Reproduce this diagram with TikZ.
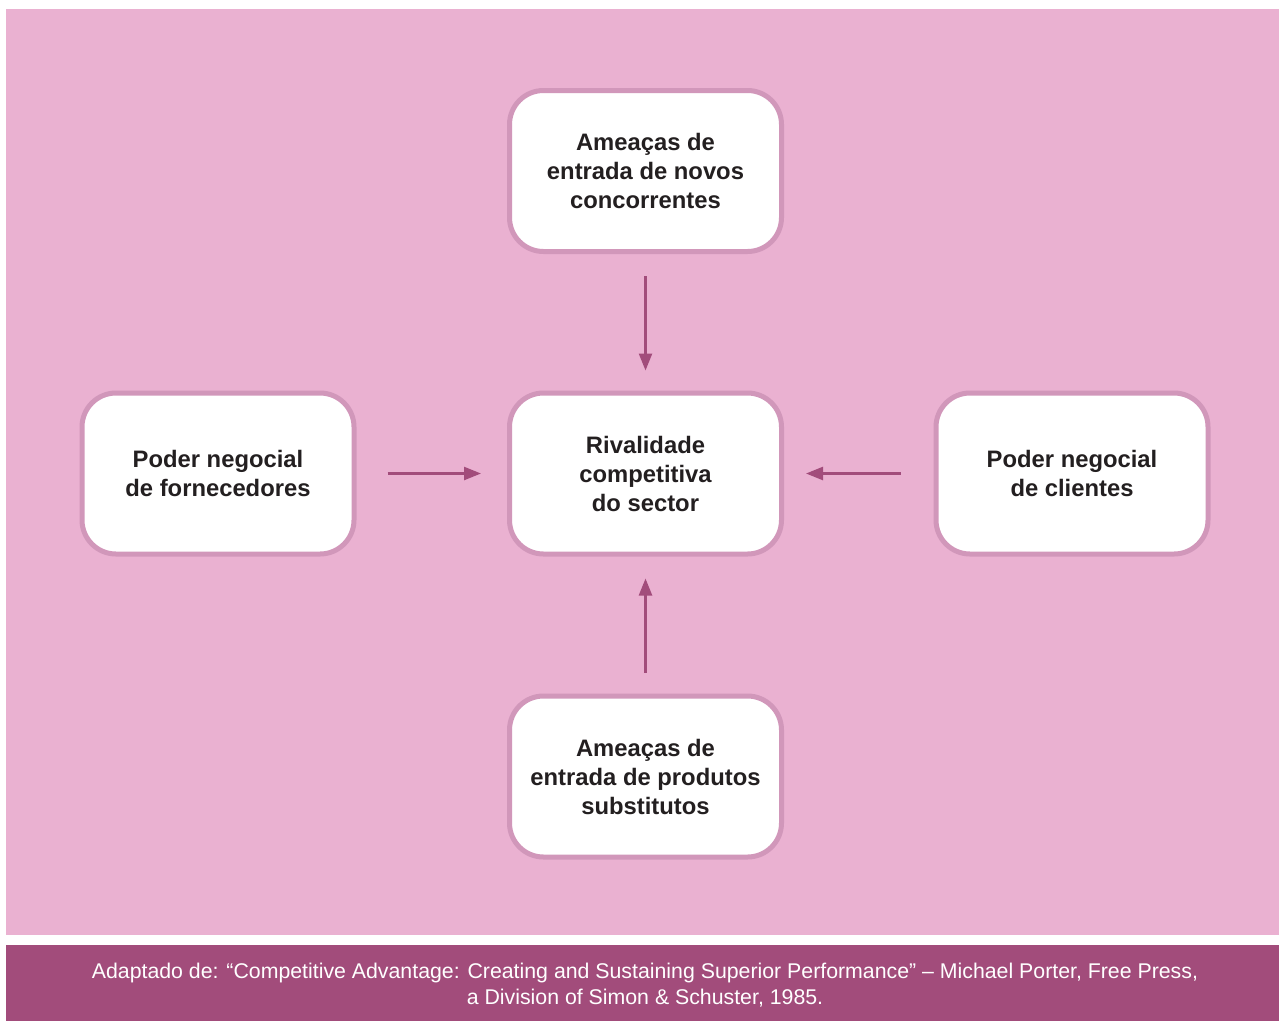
\documentclass[tikz,border=0pt]{standalone}
\usepackage{fontspec}
\setmainfont{Liberation Sans}
\usetikzlibrary{arrows.meta}
\definecolor{bgpink}{HTML}{EAB1D1}
\definecolor{footer}{HTML}{A24C7B}
\definecolor{boxline}{HTML}{D197BA}
\definecolor{txt}{HTML}{231F20}
\begin{document}
\begin{tikzpicture}[x=1pt,y=-1pt,
  forcebox/.style={draw=boxline, fill=white, line width=5pt, rounded corners=34pt,
    minimum width=272pt, minimum height=161pt, align=center, text=txt,
    font=\fontsize{23.8}{29}\selectfont\bfseries},
  arr/.style={draw=footer, line width=2.4pt, -{Triangle[length=17pt,width=13pt]}}]
\useasboundingbox[fill=white] (0,0) rectangle (1279,1021);
\fill[bgpink] (6,9) rectangle (1279,934.5);
\fill[footer] (6,945) rectangle (1279,1021);
\node[forcebox] (top) at (645.5,171) {Ameaças de\\entrada de novos\\concorrentes};
\node[forcebox] (mid) at (645.5,473.5) {Rivalidade\\competitiva\\do sector};
\node[forcebox] (left) at (218,473.5) {Poder negocial\\de fornecedores};
\node[forcebox] (right) at (1072,473.5) {Poder negocial\\de clientes};
\node[forcebox] (bot) at (645.5,776.5) {Ameaças de\\entrada de produtos\\substitutos};
\draw[arr, shorten <=22pt, shorten >=20pt] (top.south) -- (mid.north);
\draw[arr, shorten <=31pt, shorten >=26pt] (left.east) -- (mid.west);
\draw[arr, shorten <=33pt, shorten >=22pt] (right.west) -- (mid.east);
\draw[arr, shorten <=21pt, shorten >=22pt] (bot.north) -- (mid.south);
\node[text=white, align=center, font=\fontsize{21.3}{26}\selectfont] (src) at (645,985)
  {Adaptado de: “Competitive Advantage: Creating and Sustaining Superior Performance” – Michael Porter, Free Press,\\a Division of Simon \& Schuster, 1985.};
\end{tikzpicture}
\end{document}
